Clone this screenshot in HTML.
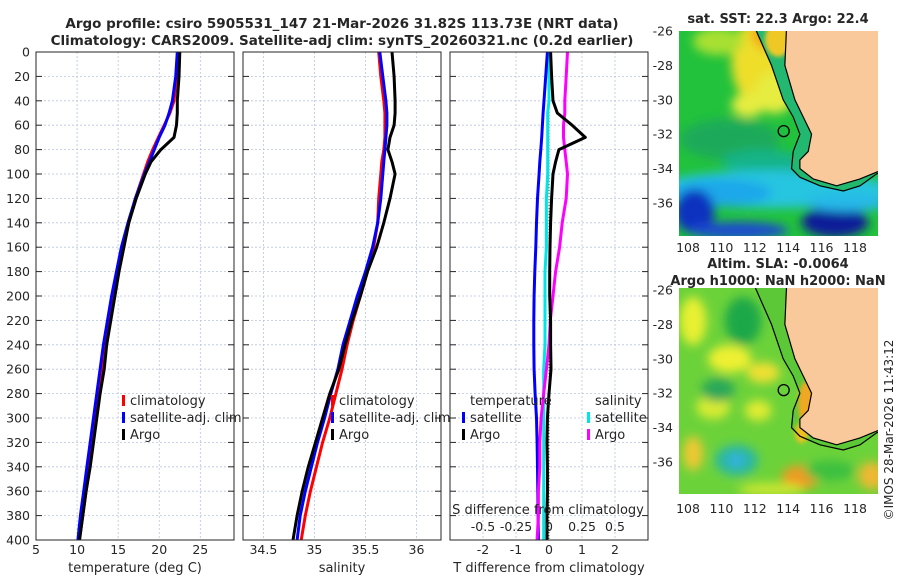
<!DOCTYPE html>
<html><head><meta charset="utf-8"><style>
body{margin:0;background:#fff}
svg text{font-family:"DejaVu Sans","Liberation Sans",sans-serif;fill:#262626}
</style></head><body>
<svg id="s" width="900" height="580" viewBox="0 0 900 580" xmlns="http://www.w3.org/2000/svg">
<defs>
<filter id="bl" x="-30%" y="-30%" width="160%" height="160%"><feGaussianBlur stdDeviation="5"/></filter>
<filter id="bl2" x="-30%" y="-30%" width="160%" height="160%"><feGaussianBlur stdDeviation="2"/></filter>
<clipPath id="c1"><rect x="679" y="31" width="199" height="205"/></clipPath>
<clipPath id="c2"><rect x="679" y="288" width="199" height="206"/></clipPath>
</defs>
<text x="342" y="28" text-anchor="middle" font-size="13.5" font-weight="bold">Argo profile: csiro 5905531_147 21-Mar-2026 31.82S 113.73E (NRT data)</text>
<text x="342" y="45" text-anchor="middle" font-size="13.5" font-weight="bold">Climatology: CARS2009. Satellite-adj clim: synTS_20260321.nc (0.2d earlier)</text>
<text x="778" y="23" text-anchor="middle" font-size="13" font-weight="bold">sat. SST: 22.3 Argo: 22.4</text>
<text x="778" y="268" text-anchor="middle" font-size="13" font-weight="bold">Altim. SLA: -0.0064</text>
<text x="778" y="285" text-anchor="middle" font-size="13" font-weight="bold">Argo h1000: NaN h2000: NaN</text>
<text transform="translate(893,430) rotate(-90)" text-anchor="middle" font-size="12">©IMOS 28-Mar-2026 11:43:12</text>
<g id="g"></g>
</svg>
<script>
// ---- data ----
const depth=[0,20,40,50,60,70,80,90,100,120,140,160,180,200,220,240,260,280,300,320,340,360,380,400];
const tClim=[22.3,22.1,21.8,21.3,20.6,19.9,19.2,18.6,18.1,17.1,16.3,15.6,15.0,14.4,13.9,13.5,13.1,12.7,12.3,11.9,11.5,11.1,10.7,10.3];
const tSat=[22.2,22.0,21.6,21.2,20.7,20.0,19.4,18.8,18.2,17.1,16.2,15.4,14.8,14.2,13.7,13.2,12.8,12.4,12.0,11.6,11.2,10.8,10.4,10.1];
const tArgo=[22.5,22.4,22.2,22.2,22.1,21.8,20.2,19.0,18.3,17.2,16.3,15.7,15.1,14.6,14.1,13.6,13.3,12.8,12.4,12.0,11.6,11.1,10.7,10.3];
const sClim=[35.63,35.65,35.68,35.69,35.69,35.69,35.68,35.66,35.65,35.63,35.62,35.58,35.52,35.45,35.38,35.32,35.27,35.21,35.15,35.08,35.02,34.96,34.91,34.87];
const sSat=[35.64,35.67,35.70,35.71,35.71,35.70,35.69,35.68,35.67,35.65,35.62,35.57,35.50,35.42,35.35,35.28,35.23,35.16,35.10,35.03,34.97,34.91,34.86,34.83];
const sArgo=[35.76,35.78,35.79,35.79,35.78,35.74,35.72,35.76,35.79,35.74,35.68,35.61,35.52,35.45,35.37,35.30,35.24,35.15,35.08,35.01,34.94,34.88,34.83,34.79];
const dtSat=[-0.05,-0.1,-0.15,-0.18,-0.2,-0.22,-0.25,-0.28,-0.3,-0.35,-0.38,-0.4,-0.43,-0.45,-0.46,-0.46,-0.45,-0.42,-0.38,-0.36,-0.35,-0.34,-0.33,-0.32];
const dtArgo=[0.05,0.08,0.12,0.25,0.7,1.1,0.3,0.2,0.12,0.08,0.05,0.03,0.02,0.02,0.05,0.05,0.06,0.0,-0.05,-0.06,-0.05,-0.05,-0.06,-0.06];
const dsSat=[0.0,0.0,0.0,-0.01,-0.01,-0.01,-0.01,-0.01,-0.01,-0.02,-0.02,-0.02,-0.03,-0.03,-0.03,-0.03,-0.04,-0.04,-0.04,-0.04,-0.04,-0.04,-0.04,-0.04];
const dsArgo=[0.14,0.13,0.12,0.12,0.11,0.11,0.12,0.13,0.14,0.13,0.10,0.08,0.05,0.03,0.01,0.0,-0.02,-0.04,-0.06,-0.07,-0.07,-0.08,-0.08,-0.09];
const tTicks=[5,10,15,20,25];
const sTicks=[34.5,35,35.5,36];
const dTicks=[-2,-1,0,1,2];
const dsTicks=[-0.5,-0.25,0,0.25,0.5];
const dsTickLabels=['-0.5','-0.25','0','0.25','0.5'];
const yTicks=[0,20,40,60,80,100,120,140,160,180,200,220,240,260,280,300,320,340,360,380,400];
const lonTicks=[108,110,112,114,116,118];
const latTicks=[-26,-28,-30,-32,-34,-36];
const floatLon=113.73, floatLat=-31.82;

const NS='http://www.w3.org/2000/svg';
const G=document.getElementById('g');
function mk(t,a,p){const e=document.createElementNS(NS,t);for(const k in a)e.setAttribute(k,a[k]);(p||G).appendChild(e);return e;}
const y0=52,y1=540;
const yS=d=>y0+(d/400)*(y1-y0);
function lin(d0,d1,r0,r1){return v=>r0+(v-d0)/(d1-d0)*(r1-r0);}

const panels=[
 {x0:36,x1:234,xs:lin(5,29.1,36,234),ticks:tTicks,labels:tTicks.map(String),title:'temperature (deg C)',name:'temperature-panel'},
 {x0:243,x1:441,xs:lin(34.3,36.24,243,441),ticks:sTicks,labels:sTicks.map(String),title:'salinity',name:'salinity-panel'},
 {x0:450,x1:648,xs:lin(-3,3,450,648),ticks:dTicks,labels:dTicks.map(String),title:'T difference from climatology',name:'difference-panel'}
];
panels.forEach((p,pi)=>{
 const g=mk('g',{});
 
 
 mk('rect',{x:p.x0,y:y0,width:p.x1-p.x0,height:y1-y0,fill:'#fff'},g);
 yTicks.forEach(d=>{const y=yS(d);
  mk('line',{x1:p.x0,x2:p.x1,y1:y,y2:y,stroke:'#b8c4e0','stroke-width':0.8,'stroke-dasharray':'2,2'},g);
  mk('line',{x1:p.x0,x2:p.x0+6,y1:y,y2:y,stroke:'#262626'},g);
  mk('line',{x1:p.x1-6,x2:p.x1,y1:y,y2:y,stroke:'#262626'},g);
  if(pi==0){const t=mk('text',{x:30,y:y+4.5,'text-anchor':'end','font-size':12.5},g);t.textContent=d;}
 });
 p.ticks.forEach((v,i)=>{const x=p.xs(v);
  mk('line',{x1:x,x2:x,y1:y0,y2:y1,stroke:'#b8c4e0','stroke-width':0.8,'stroke-dasharray':'2,2'},g);
  const t=mk('text',{x:x,y:554,'text-anchor':'middle','font-size':12.5},g);t.textContent=p.labels[i];
 });
 const tt=mk('text',{x:(p.x0+p.x1)/2,y:572,'text-anchor':'middle','font-size':13},g);tt.textContent=p.title;
});
function line(xs,vals,color,w,name){
 const pts=vals.map((v,i)=>xs(v).toFixed(1)+','+yS(depth[i]).toFixed(1)).join(' ');
 const e=mk('polyline',{points:pts,fill:'none',stroke:color,'stroke-width':w,'stroke-linejoin':'round'});
 
 
}
const P=panels;
line(P[0].xs,tClim,'#ff0000',3,'temp-climatology-line');
line(P[0].xs,tSat,'#0000ff',3,'temp-satellite-line');
line(P[0].xs,tArgo,'#000',3,'temp-argo-line');
line(P[1].xs,sClim,'#ff0000',3,'sal-climatology-line');
line(P[1].xs,sSat,'#0000ff',3,'sal-satellite-line');
line(P[1].xs,sArgo,'#000',3,'sal-argo-line');
const zx=P[2].xs(0);
const zl=mk('line',{x1:zx,x2:zx,y1:y0,y2:y1,stroke:'#446633','stroke-width':1,'stroke-dasharray':'1,2'});


const dsx=lin(-0.75,0.75,450,648);
line(dsx,dsSat,'#00e5e5',3,'sal-diff-satellite-line');
line(P[2].xs,dtSat,'#0000ff',3,'temp-diff-satellite-line');
line(dsx,dsArgo,'#ff00ff',3,'sal-diff-argo-line');
line(P[2].xs,dtArgo,'#000',3,'temp-diff-argo-line');
dsTicks.forEach((v,i)=>{const t=mk('text',{x:dsx(v),y:531,'text-anchor':'middle','font-size':12.5});t.textContent=dsTickLabels[i];});
const st=mk('text',{x:548,y:514,'text-anchor':'middle','font-size':13});st.textContent='S difference from climatology';

panels.forEach(p=>mk('rect',{x:p.x0,y:y0,width:p.x1-p.x0,height:y1-y0,fill:'none',stroke:'#262626','stroke-width':1}));
function leg(x,y,color,label,name){
 const g=mk('g',{});
 mk('rect',{x:x,y:y-10,width:3,height:11,fill:color},g);
 const t=mk('text',{x:x+8,y:y,'font-size':13},g);t.textContent=label;
}
leg(122,405,'#ff0000','climatology','legend-t-climatology');
leg(122,422,'#0000ff','satellite-adj. clim','legend-t-satellite');
leg(122,439,'#000','Argo','legend-t-argo');
leg(331,405,'#ff0000','climatology','legend-s-climatology');
leg(331,422,'#0000ff','satellite-adj. clim','legend-s-satellite');
leg(331,439,'#000','Argo','legend-s-argo');
let tl=mk('text',{x:470,y:405,'font-size':13});tl.textContent='temperature';
leg(462,422,'#0000ff','satellite','legend-dt-satellite');
leg(462,439,'#000','Argo','legend-dt-argo');
tl=mk('text',{x:595,y:405,'font-size':13});tl.textContent='salinity';
leg(587,422,'#00e5e5','satellite','legend-ds-satellite');
leg(587,439,'#ff00ff','Argo','legend-ds-argo');

// ---- maps ----
const coast=[[113.9,-25.8],[113.8,-28],[114.4,-30],[114.9,-31],[115.4,-32],[115.2,-33],[114.7,-33.5],[114.7,-34],[115.5,-34.6],[116.9,-35],[118.3,-34.6],[119.3,-34.2],[120,-34.0]];
const shelf=[[112.0,-25.8],[113.0,-28],[113.7,-30],[114.3,-31],[114.7,-32],[114.3,-33],[114.2,-34],[114.7,-34.5],[115.9,-35],[117.3,-35.3],[118.3,-35],[119.3,-34.3],[120,-34.1]];
function drawMap(top,clip,blobs,base,strip,spots,name,lonY){
 const X=lin(108,118,688,855), Y=lin(-26,-36,top,top+172);
 const g=mk('g',{});
 const c=mk('g',{'clip-path':'url(#'+clip+')'},g);
 mk('rect',{x:679,y:top-2,width:199,height:210,fill:base},c);
 const b=mk('g',{filter:'url(#bl)'},c);
 blobs.forEach(o=>mk('ellipse',{cx:X(o[0]),cy:Y(o[1]),rx:o[2]*16.7,ry:o[3]*17.2,fill:o[4]},b));
 const sh=shelf.map(p=>X(p[0])+','+Y(p[1])).join(' ');
 const cs=coast.map(p=>X(p[0])+','+Y(p[1]));
 mk('path',{d:'M'+sh.split(' ').join(' L')+' L900,'+(top-5)+' Z',fill:strip},c);
 const b2=mk('g',{filter:'url(#bl2)'},c);
 spots.forEach(o=>mk('ellipse',{cx:X(o[0]),cy:Y(o[1]),rx:o[2]*16.7,ry:o[3]*17.2,fill:o[4]},b2));
 mk('path',{d:'M'+cs.join(' L')+' L900,'+(top-5)+' Z',fill:'#f9c89b',stroke:'#000','stroke-width':1.2},c);
 mk('polyline',{points:sh,fill:'none',stroke:'#000','stroke-width':1.2},c);
 mk('circle',{cx:X(floatLon),cy:Y(floatLat),r:5.5,fill:'none',stroke:'#000','stroke-width':1.3},g);
 latTicks.forEach(l=>{const t=mk('text',{x:673,y:Y(l)+4.5,'text-anchor':'end','font-size':12.5},g);t.textContent=l;});
 lonTicks.forEach(l=>{const t=mk('text',{x:X(l),y:lonY,'text-anchor':'middle','font-size':12.5},g);t.textContent=l;});
}
const sstBlobs=[[112.4,-27.8,1.8,2.6,'#eede2a'],[112.9,-26.2,1.1,0.9,'#f5a516'],[113.2,-29.6,1.2,1.2,'#e6ec40'],[111.6,-30.3,1,0.7,'#e6ec40'],[109.8,-26.6,1.5,0.8,'#a8e030'],
 [110.5,-32.3,3,1.2,'#1aaa5a'],[112.5,-33.6,2.5,0.7,'#18b488'],[113,-35.2,7,1.1,'#25c5e0'],[110,-35.4,3,0.8,'#1ea8ea'],[108.4,-36.5,1.2,1.3,'#1030c0'],[116.8,-37.1,2,0.9,'#081c98'],[111,-37.6,3,0.5,'#1c48d0'],[117.5,-36,2.5,0.5,'#25b8e8']];
drawMap(31,'c1',sstBlobs,'#22c23c','#22b870',[[113.4,-26.5,0.8,1,'#f0c828']],'sst-map',252);
const slaBlobs=[[108.3,-27.8,0.8,1.4,'#e8f030'],[110.5,-30,1.3,0.8,'#eef030'],[112.5,-30.8,1,0.6,'#f0e030'],[109.5,-32.8,1,0.7,'#d8ec30'],[112.2,-33,0.8,0.6,'#e0ec30'],[108.3,-35.5,0.6,1,'#f0c830'],
 [111.3,-27.8,1.1,1.4,'#1ea848'],[109.8,-31.8,1,0.7,'#2aa858'],[110.9,-35.9,1.3,0.9,'#2ab8a0'],[110.9,-35.9,0.5,0.35,'#36b0e8'],[114.7,-36.9,1.1,0.7,'#f09a20'],[119,-36.8,0.8,0.8,'#f0b830'],[113,-37.6,2,0.4,'#c8e632'],[116.5,-36.5,1.5,0.6,'#3cc040']];
drawMap(290,'c2',slaBlobs,'#6cd23a','#5cc838',[[115.1,-32.6,0.5,1.3,'#f0a820'],[114.8,-34.3,0.4,0.6,'#f0c020']],'sla-map',513);
</script>
</body></html>
